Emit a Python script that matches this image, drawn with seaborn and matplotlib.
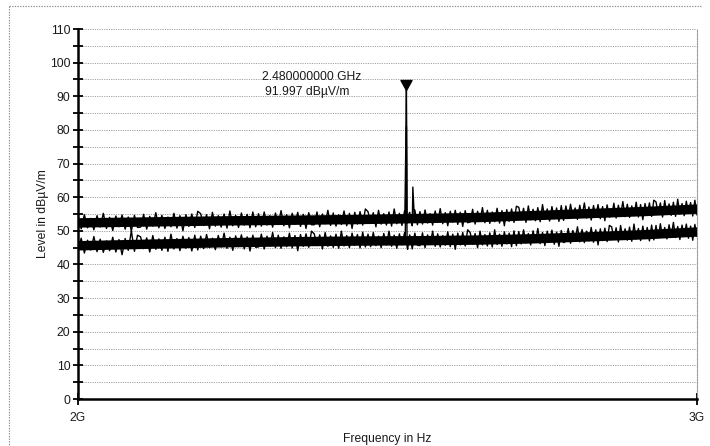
import numpy as np
import pandas as pd
import matplotlib
matplotlib.use("Agg")
import matplotlib.pyplot as plt
import seaborn as sns
from matplotlib.lines import Line2D
from matplotlib.path import Path
from matplotlib.ticker import FixedLocator, NullLocator

# ---------------- data ----------------
f_start_hz = 2.0e9
f_stop_hz = 3.0e9

peak_levels = [
    54.3, 50.6, 54.8, 50.9, 53.7, 50.3, 54.5, 51.1, 55.2, 50.7, 54.0, 50.1, 54.4, 51.2, 54.7, 50.5, 54.1, 49.9, 54.6, 51.0,
    51.1, 54.9, 50.5, 54.3, 51.4, 55.4, 50.9, 54.6, 50.7, 54.1, 51.2, 55.2, 50.8, 54.5, 50.0, 54.8, 51.3, 55.0, 51.0, 55.8,
    55.1, 51.6, 54.8, 50.6, 55.5, 51.4, 54.5, 51.1, 55.0, 50.8, 55.9, 51.5, 54.6, 51.0, 55.3, 51.7, 54.9, 50.9, 55.6, 51.2,
    55.1, 51.4, 55.6, 51.7, 54.5, 51.1, 55.3, 51.9, 56.0, 51.5, 54.8, 50.9, 55.2, 52.0, 55.5, 51.3, 54.9, 50.7, 55.4, 51.8,
    51.8, 55.6, 51.2, 55.0, 52.1, 56.1, 51.6, 55.3, 51.4, 54.8, 51.9, 55.9, 51.5, 55.2, 50.7, 55.5, 52.0, 55.7, 51.7, 56.5,
    55.7, 52.2, 55.4, 51.2, 56.1, 52.0, 55.1, 51.7, 55.6, 51.4, 56.5, 52.1, 55.2, 51.6, 55.9, 52.3, 55.5, 51.5, 56.2, 51.8,
    55.7, 52.0, 56.2, 52.3, 55.1, 51.7, 55.9, 52.5, 56.6, 52.1, 55.4, 51.5, 55.8, 52.6, 56.1, 51.9, 55.5, 51.3, 56.0, 52.4,
    52.6, 56.4, 52.0, 55.8, 52.9, 56.9, 52.4, 56.1, 52.2, 55.6, 52.7, 56.7, 52.3, 56.0, 51.5, 56.3, 52.8, 56.5, 52.5, 57.3,
    57.0, 53.5, 56.7, 52.5, 57.4, 53.3, 56.4, 53.0, 56.9, 52.7, 57.8, 53.4, 56.5, 52.9, 57.2, 53.6, 56.8, 52.8, 57.5, 53.1,
    57.4, 53.7, 57.9, 54.0, 56.8, 53.4, 57.6, 54.2, 58.3, 53.8, 57.1, 53.2, 57.5, 54.3, 57.8, 53.6, 57.2, 53.0, 57.7, 54.1,
    54.4, 58.2, 53.8, 57.6, 54.7, 58.7, 54.2, 57.9, 54.0, 57.4, 54.5, 58.5, 54.1, 57.8, 53.3, 58.1, 54.6, 58.3, 54.3, 59.1,
    58.6, 55.1, 58.3, 54.1, 59.0, 54.9, 58.0, 54.6, 58.5, 54.3, 59.4, 55.0, 58.1, 54.5, 58.8, 55.2, 58.4, 54.4, 59.1, 54.7,
]

# average trace, dBuV/m
avg_levels = [
    44.0, 47.8, 43.4, 47.2, 44.3, 48.3, 43.8, 47.5, 43.6, 47.0, 44.1, 48.1, 43.7, 47.4, 42.9, 47.7, 44.2, 50.0, 43.9, 48.7,
    48.2, 44.7, 47.9, 43.7, 48.6, 44.5, 47.6, 44.2, 48.1, 43.9, 49.0, 44.6, 47.7, 44.1, 48.4, 44.8, 48.0, 44.0, 48.7, 44.3,
    48.4, 44.7, 48.9, 45.0, 47.8, 44.4, 48.6, 45.2, 49.3, 44.8, 48.1, 44.2, 48.5, 45.3, 48.8, 44.6, 48.2, 44.0, 48.7, 45.1,
    45.2, 49.0, 44.6, 48.4, 45.5, 49.5, 45.0, 48.7, 44.8, 48.2, 45.3, 49.3, 44.9, 48.6, 44.1, 48.9, 45.4, 49.1, 45.1, 49.9,
    49.1, 45.6, 48.8, 44.6, 49.5, 45.4, 48.5, 45.1, 49.0, 44.8, 49.9, 45.5, 48.6, 45.0, 49.3, 45.7, 48.9, 44.9, 49.6, 45.2,
    49.0, 45.3, 49.5, 45.6, 48.4, 45.0, 49.2, 45.8, 49.9, 45.4, 48.7, 44.8, 49.1, 45.9, 49.4, 45.2, 48.8, 44.6, 49.3, 45.7,
    45.6, 49.4, 45.0, 48.8, 45.9, 49.9, 45.4, 49.1, 45.2, 48.6, 45.7, 49.7, 45.3, 49.0, 44.5, 49.3, 45.8, 49.5, 45.5, 50.3,
    49.5, 46.0, 49.2, 45.0, 49.9, 45.8, 48.9, 45.5, 49.4, 45.2, 50.3, 45.9, 49.0, 45.4, 49.7, 46.1, 49.3, 45.3, 50.0, 45.6,
    49.8, 46.1, 50.3, 46.4, 49.2, 45.8, 50.0, 46.6, 50.7, 46.2, 49.5, 45.6, 49.9, 46.7, 50.2, 46.0, 49.6, 45.4, 50.1, 46.5,
    46.9, 50.7, 46.3, 50.1, 47.2, 51.2, 46.7, 50.4, 46.5, 49.9, 47.0, 51.0, 46.6, 50.3, 45.8, 50.6, 47.1, 50.8, 46.8, 51.6,
    51.2, 47.7, 50.9, 46.7, 51.6, 47.5, 50.6, 47.2, 51.1, 46.9, 52.0, 47.6, 50.7, 47.1, 51.4, 47.8, 51.0, 47.0, 51.7, 47.3,
    51.6, 47.9, 52.1, 48.2, 51.0, 47.6, 51.8, 48.4, 52.5, 48.0, 51.3, 47.4, 51.7, 48.5, 52.0, 47.8, 51.4, 47.2, 51.9, 48.3,
]

# dense-noise core of each trace (solid black band), read every 100 MHz
band_freq_ghz = [2.0, 2.1, 2.2, 2.3, 2.4, 2.5, 2.6, 2.7, 2.8, 2.9, 3.0]
peak_band_lo = [51.1, 51.4, 51.7, 51.9, 52.1, 52.4, 52.7, 53.3, 53.9, 54.5, 55.2]
peak_band_hi = [53.9, 54.2, 54.5, 54.7, 54.9, 55.2, 55.5, 56.1, 56.7, 57.3, 58.0]
avg_band_lo = [44.3, 44.8, 45.2, 45.5, 45.7, 45.8, 46.0, 46.4, 47.0, 47.6, 48.4]
avg_band_hi = [47.1, 47.6, 48.0, 48.3, 48.5, 48.6, 48.8, 49.2, 49.8, 50.4, 51.2]

# carrier at 2.48 GHz (and its small spur)
spike_peak_freq_hz = [2.4775e9, 2.4792e9, 2.4800e9, 2.4808e9, 2.4840e9, 2.4880e9, 2.4905e9, 2.4930e9]
spike_peak_level = [54.0, 78.0, 91.997, 70.0, 55.0, 52.5, 63.0, 53.5]
spike_avg_freq_hz = [2.4780e9, 2.4795e9, 2.4800e9, 2.4805e9, 2.4820e9]
spike_avg_level = [46.0, 70.0, 81.0, 60.0, 44.5]

marker_freq_hz = 2.48e9
marker_level = 91.997
marker_text_1 = "2.480000000 GHz"
marker_text_2 = "91.997 dB\u00b5V/m"

y_major_ticks = list(range(0, 111, 10))
y_minor_ticks = list(range(5, 110, 10))
x_tick_values = [2.0e9, 3.0e9]
x_tick_labels = ["2G", "3G"]


def build_trace(levels, spike_f, spike_l):
    freq = np.linspace(f_start_hz, f_stop_hz, len(levels))
    df = pd.DataFrame({"freq": np.concatenate([freq, spike_f]),
                       "level": np.concatenate([levels, spike_l])})
    return df.sort_values("freq").reset_index(drop=True)


df_peak = build_trace(peak_levels, spike_peak_freq_hz, spike_peak_level)
df_avg = build_trace(avg_levels, spike_avg_freq_hz, spike_avg_level)
band_freq_hz = np.array(band_freq_ghz) * 1e9

# ---------------- style ----------------
sns.set_theme(style="white")
plt.rcParams["font.family"] = ["Liberation Sans", "DejaVu Sans"]
text_color = "#1a1a1a"

fig = plt.figure(figsize=(7.10, 4.46), dpi=100)
ax = fig.add_axes([78 / 710, 1 - 399 / 446, (697 - 78) / 710, (399 - 29) / 446])

ax.fill_between(band_freq_hz, peak_band_lo, peak_band_hi, color="black", linewidth=0, zorder=2)
ax.fill_between(band_freq_hz, avg_band_lo, avg_band_hi, color="black", linewidth=0, zorder=2)

sns.lineplot(data=df_peak, x="freq", y="level", ax=ax, color="black",
             linewidth=1.0, estimator=None, sort=False, zorder=3)
sns.lineplot(data=df_avg, x="freq", y="level", ax=ax, color="black",
             linewidth=1.0, estimator=None, sort=False, zorder=3)

ax.set_xscale("log")
ax.set_xlim(f_start_hz, f_stop_hz)
ax.set_ylim(0, 110)

ax.xaxis.set_major_locator(FixedLocator(x_tick_values))
ax.xaxis.set_minor_locator(NullLocator())
ax.set_xticklabels(x_tick_labels)
ax.set_yticks(y_major_ticks)
ax.set_yticks(y_minor_ticks, minor=True)

ax.grid(False)
ax.grid(which="both", axis="y", color="#a0a0a0", linestyle=(0, (1.2, 1.2)), linewidth=0.7)
ax.set_axisbelow(True)

for side in ["left", "bottom"]:
    ax.spines[side].set_color("black")
    ax.spines[side].set_linewidth(1.8)
ax.spines["top"].set_visible(False)
ax.spines["right"].set_color("#9a9a9a")
ax.spines["right"].set_linestyle((0, (1.2, 1.2)))
ax.spines["right"].set_linewidth(0.8)

ax.tick_params(axis="y", which="both", direction="inout", length=7, width=1.3,
               color="black", labelsize=8.7, labelcolor=text_color, pad=2, left=True)
ax.tick_params(axis="x", which="major", direction="inout", length=9, width=1.3,
               color="black", labelsize=8.7, labelcolor=text_color, pad=5, bottom=True)

ax.set_xlabel("Frequency in Hz", fontsize=8.7, color=text_color, labelpad=6)
ax.set_ylabel("Level in dB\u00b5V/m", fontsize=8.7, color=text_color, labelpad=0.5)

# marker: down-pointing triangle with its tip on the peak
tri = Path([(-0.55, 1.0), (0.55, 1.0), (0.0, 0.0), (-0.55, 1.0)],
           [Path.MOVETO, Path.LINETO, Path.LINETO, Path.CLOSEPOLY])
ax.plot([marker_freq_hz], [marker_level], marker=tri, markersize=14.4,
        color="black", linestyle="none", clip_on=False, zorder=4)
ax.annotate(marker_text_1, xy=(marker_freq_hz, marker_level), xytext=(-144, 13),
            textcoords="offset pixels", ha="left", va="center",
            fontsize=8.7, color=text_color)
ax.annotate(marker_text_2, xy=(marker_freq_hz, marker_level), xytext=(-141, -2),
            textcoords="offset pixels", ha="left", va="center",
            fontsize=8.7, color=text_color)

# dotted outer frame (top and left edges, as scanned)
frame_style = dict(color="#8a8a8a", linestyle=(0, (1.2, 1.2)), linewidth=0.8,
                   transform=fig.transFigure)
fig.add_artist(Line2D([9 / 710, 702 / 710], [1 - 6 / 446, 1 - 6 / 446], **frame_style))
fig.add_artist(Line2D([9 / 710, 9 / 710], [1 - 6 / 446, 0.0], **frame_style))

fig.savefig("out.png", dpi=100, facecolor="white")
